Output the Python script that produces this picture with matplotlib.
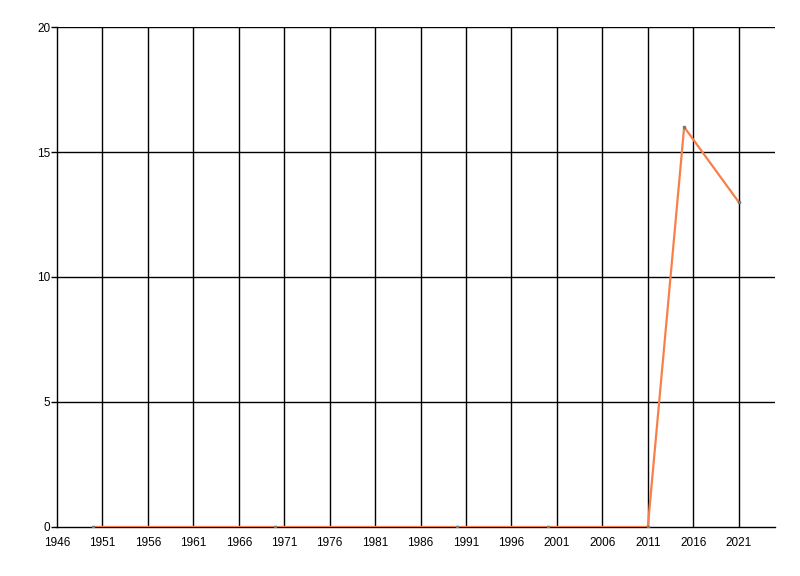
import matplotlib
matplotlib.use('Agg')
import matplotlib.pyplot as plt
import numpy as np

# Data
years = [1950, 1970, 1990, 2000, 2011, 2015, 2021]
values = [0, 0, 0, 0, 0, 16, 13]

x_ticks = list(range(1946, 2022, 5))
y_ticks = [0, 5, 10, 15, 20]

plt.rcParams['font.family'] = ['Liberation Sans', 'DejaVu Sans']

fig = plt.figure(figsize=(8, 5.76), dpi=100)
ax = fig.add_axes([0.0713, 0.0851, 0.8975, 0.868])

ax.set_xlim(1946, 2025)
ax.set_ylim(0, 20)
ax.set_xticks(x_ticks)
ax.set_yticks(y_ticks)
ax.set_xticklabels([str(t) for t in x_ticks])

# Gridlines in black
for t in x_ticks[1:]:
    ax.axvline(t, color='black', lw=1, zorder=1)
for t in y_ticks[1:]:
    ax.axhline(t, color='black', lw=1, zorder=1)

ax.plot(years, values, color='#F7804A', lw=1.6, zorder=3,
        marker='s', markersize=1.5, markerfacecolor='#777777',
        markeredgecolor='#777777')

for side in ['top', 'right']:
    ax.spines[side].set_visible(False)
for side in ['left', 'bottom']:
    ax.spines[side].set_color('black')
    ax.spines[side].set_linewidth(1)

ax.tick_params(axis='both', labelsize=8.5, length=4, width=1, color='black', pad=1)
ax.tick_params(axis='x', length=0, pad=7)

fig.savefig('out.png', dpi=100)
